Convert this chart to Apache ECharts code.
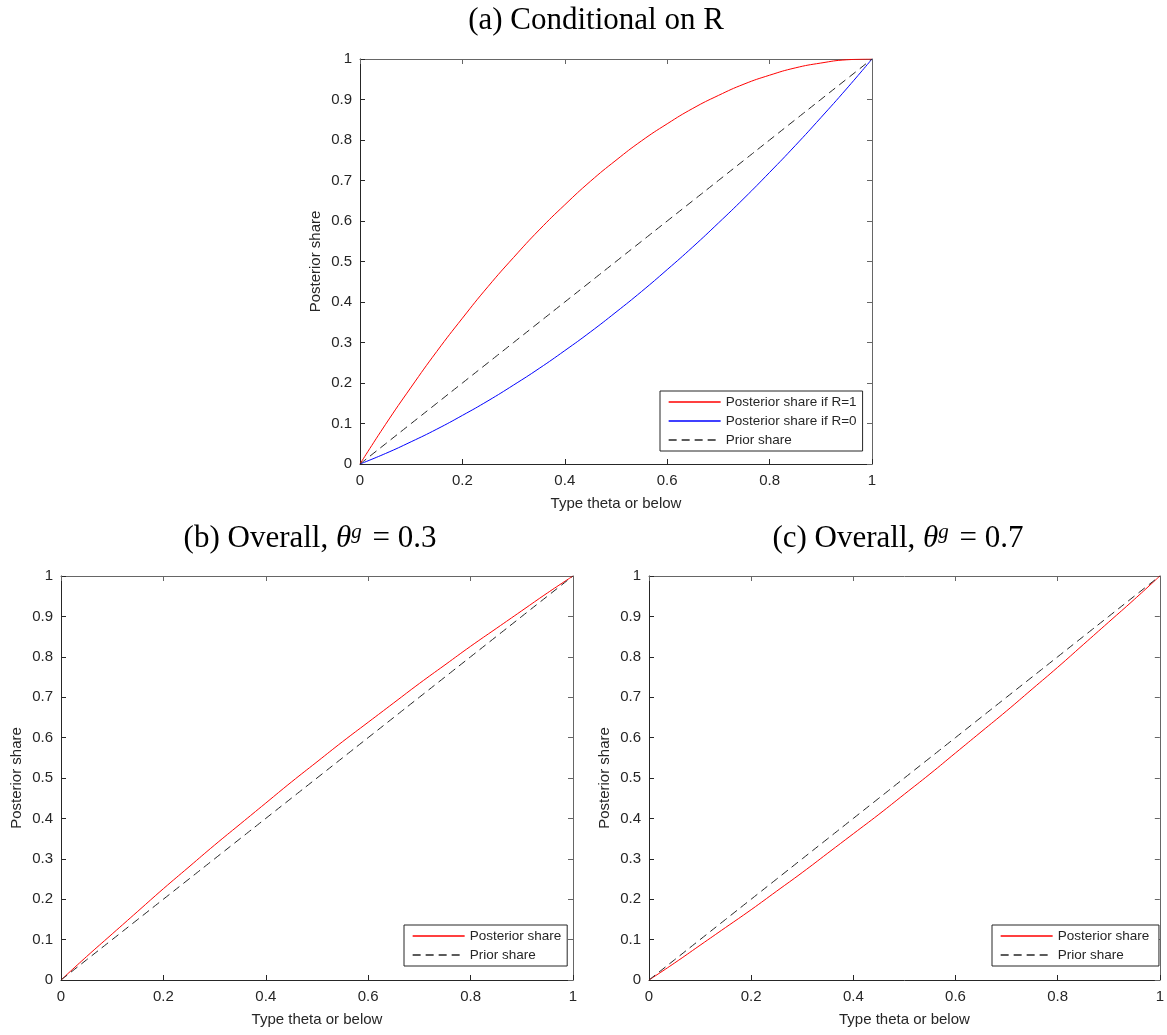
<!DOCTYPE html>
<html>
<head>
<meta charset="utf-8">
<script src="https://cdn.jsdelivr.net/npm/echarts@6/dist/echarts.min.js"></script>
<style>
  html, body { margin: 0; padding: 0; background: #fff; }
  #main { width: 1167px; height: 1035px; }
</style>
</head>
<body>
<div id="main"></div>
<script>
// x positions (type theta or below)
var xs = [0, 0.05, 0.1, 0.15, 0.2, 0.25, 0.3, 0.35, 0.4, 0.45, 0.5,
          0.55, 0.6, 0.65, 0.7, 0.75, 0.8, 0.85, 0.9, 0.95, 1];

// panel (a)
var postR1 = [0, 0.098, 0.19, 0.278, 0.36, 0.438, 0.51, 0.578, 0.64, 0.698, 0.75,
              0.798, 0.84, 0.878, 0.91, 0.938, 0.96, 0.978, 0.99, 0.998, 1];
var postR0 = [0, 0.026, 0.055, 0.086, 0.12, 0.156, 0.195, 0.236, 0.28, 0.326, 0.375,
              0.426, 0.48, 0.536, 0.595, 0.656, 0.72, 0.786, 0.855, 0.926, 1];
var prior = [0, 0.05, 0.1, 0.15, 0.2, 0.25, 0.3, 0.35, 0.4, 0.45, 0.5,
             0.55, 0.6, 0.65, 0.7, 0.75, 0.8, 0.85, 0.9, 0.95, 1];

// panel (b) theta^g = 0.3
var postB = [0, 0.058, 0.114, 0.170, 0.226, 0.28, 0.334, 0.386, 0.438, 0.49, 0.54,
             0.59, 0.638, 0.686, 0.734, 0.78, 0.826, 0.87, 0.914, 0.958, 1];
// panel (c) theta^g = 0.7
var postC = [0, 0.042, 0.086, 0.13, 0.174, 0.22, 0.266, 0.314, 0.362, 0.41, 0.46,
             0.51, 0.562, 0.614, 0.666, 0.72, 0.774, 0.83, 0.886, 0.942, 1];

var txt = '#262626';
var red = '#ff0000', blue = '#0000ff';
var font = 'Liberation Sans';

function pairs(ys) {
    return xs.map(function (x, i) { return [x, ys[i]]; });
}

var grids = [
    { left: 360, top: 59, width: 512, height: 405 },
    { left: 61, top: 576, width: 512, height: 404 },
    { left: 649, top: 576, width: 512, height: 404 }
];

var xAxes = [], yAxes = [];
grids.forEach(function (g, i) {
    xAxes.push({
        type: 'value', gridIndex: i, min: 0, max: 1, interval: 0.2, position: 'bottom',
        name: 'Type theta or below', nameLocation: 'middle', nameGap: 32,
        nameTextStyle: { color: txt, fontFamily: font, fontSize: 15 },
        axisLine: { lineStyle: { color: txt, width: 1 } },
        axisTick: { inside: true, length: 5, lineStyle: { color: txt } },
        axisLabel: { color: txt, fontFamily: font, fontSize: 15, margin: 9,
                     formatter: function (v) { return String(+v.toFixed(1)); } },
        splitLine: { show: false }
    });
    xAxes.push({
        type: 'value', gridIndex: i, min: 0, max: 1, interval: 0.2, position: 'top',
        axisLine: { onZero: false, lineStyle: { color: '#666', width: 1 } },
        axisTick: { inside: true, length: 5, lineStyle: { color: '#666' } },
        axisLabel: { show: false },
        splitLine: { show: false }
    });
    yAxes.push({
        type: 'value', gridIndex: i, min: 0, max: 1, interval: 0.1, position: 'left',
        name: 'Posterior share', nameLocation: 'middle', nameGap: 37,
        nameTextStyle: { color: txt, fontFamily: font, fontSize: 15 },
        axisLine: { show: true, onZero: false, lineStyle: { color: txt, width: 1 } },
        axisTick: { show: true, inside: true, length: 5, lineStyle: { color: txt } },
        axisLabel: { color: txt, fontFamily: font, fontSize: 15, margin: 8,
                     formatter: function (v) { return String(+v.toFixed(1)); } },
        splitLine: { show: false }
    });
    yAxes.push({
        type: 'value', gridIndex: i, min: 0, max: 1, interval: 0.1, position: 'right',
        axisLine: { show: true, onZero: false, lineStyle: { color: '#666', width: 1 } },
        axisTick: { show: true, inside: true, length: 5, lineStyle: { color: '#666' } },
        axisLabel: { show: false },
        splitLine: { show: false }
    });
});

function line(name, ys, gi, color, dashed) {
    return {
        name: name, type: 'line', xAxisIndex: gi * 2, yAxisIndex: gi * 2,
        data: pairs(ys), smooth: true, symbol: 'none', silent: true,
        lineStyle: { color: color, width: 1, type: dashed ? [8, 5] : 'solid' },
        itemStyle: { color: color },
        animation: false
    };
}

var legendBase = {
    orient: 'vertical', itemWidth: 52, itemHeight: 14, itemGap: 5,
    backgroundColor: '#fff', borderColor: txt, borderWidth: 1,
    padding: [4, 6, 4, 8],
    itemStyle: { opacity: 0 },
    lineStyle: { width: 1.3 },
    textStyle: { color: txt, fontFamily: font, fontSize: 13.5 },
    selectedMode: false
};

var serif = 'Liberation Serif';
var titleRich = {
    n: { fontFamily: serif, fontSize: 31, fontWeight: 'normal', color: '#000' },
    it: { fontFamily: serif, fontSize: 31, fontWeight: 'normal', fontStyle: 'italic', color: '#000' },
    sup: { fontFamily: serif, fontSize: 21, fontWeight: 'normal', fontStyle: 'italic', color: '#000',
           verticalAlign: 'top', padding: [0, 3, 12, 0] }
};

var option = {
    animation: false,
    backgroundColor: '#fff',
    title: [
        { text: '{n|(a) Conditional on R}', left: 591, top: 0, textAlign: 'center',
          textStyle: { fontWeight: 'normal', rich: titleRich } },
        { text: '{n|(b) Overall, }{it|θ}{sup|g}{n| = 0.3}', left: 305, top: 517, textAlign: 'center',
          textStyle: { fontWeight: 'normal', rich: titleRich } },
        { text: '{n|(c) Overall, }{it|θ}{sup|g}{n| = 0.7}', left: 893, top: 517, textAlign: 'center',
          textStyle: { fontWeight: 'normal', rich: titleRich } }
    ],
    grid: grids,
    xAxis: xAxes,
    yAxis: yAxes,
    legend: [
        Object.assign({}, legendBase, { left: 660, top: 391,
            data: ['Posterior share if R=1', 'Posterior share if R=0', 'Prior share'] }),
        Object.assign({}, legendBase, { left: 404, top: 925,
            data: ['Posterior share', 'Prior share '] }),
        Object.assign({}, legendBase, { left: 992, top: 925,
            data: ['Posterior share ', 'Prior share  '] })
    ],
    series: [
        line('Posterior share if R=1', postR1, 0, red, false),
        line('Posterior share if R=0', postR0, 0, blue, false),
        line('Prior share', prior, 0, txt, true),
        line('Posterior share', postB, 1, red, false),
        line('Prior share ', prior, 1, txt, true),
        line('Posterior share ', postC, 2, red, false),
        line('Prior share  ', prior, 2, txt, true)
    ]
};

var chart = echarts.init(document.getElementById('main'), null, { renderer: 'canvas' });
chart.setOption(option);
</script>
</body>
</html>
